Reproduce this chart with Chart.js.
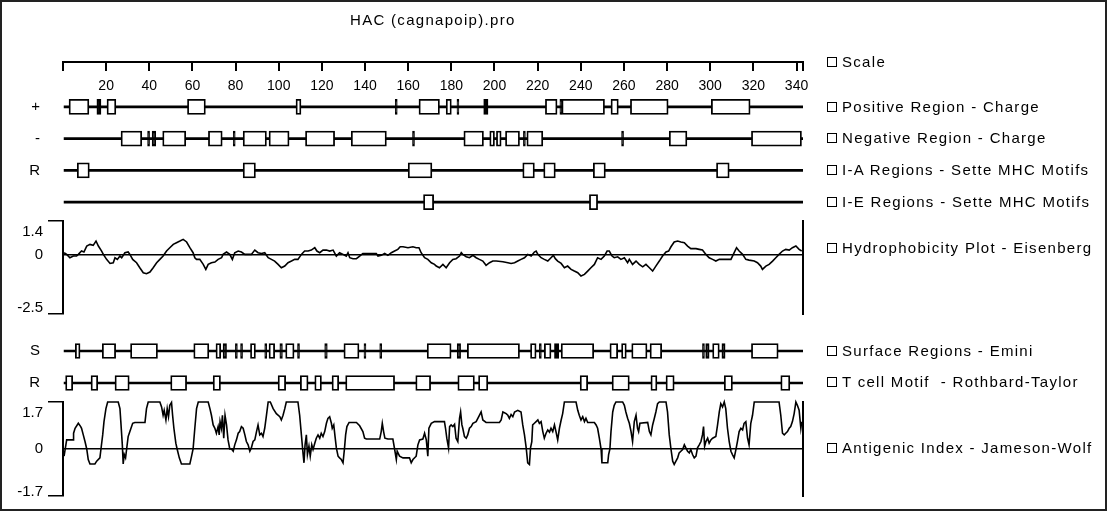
<!DOCTYPE html>
<html lang="en">
<head>
<meta charset="UTF-8">
<title>HAC (cagnapoip).pro</title>
<script src="https://cdn.jsdelivr.net/npm/chart.js"></script>
<style>
  body { margin: 0; background: #fff; }
  #wrap { position: relative; width: 1110px; height: 511px; overflow: hidden; font-family: Arial, "Liberation Sans", sans-serif; }
  #frame { position: absolute; left: 0; top: 0; width: 1103px; height: 507px; border: 2px solid #222; }
  canvas { position: absolute; left: 0; top: 0; }
  .txt { position: absolute; font-size: 15px; letter-spacing: 1.3px; color: #000; white-space: pre; line-height: 18px; }
  .key { position: absolute; width: 10px; height: 10px; border: 1.5px solid #000; box-sizing: border-box; }
</style>
</head>
<body>
<div id="wrap">
  <div id="frame"></div>
  <canvas id="cScale" width="1110" height="511"></canvas>
  <canvas id="cTop" width="1110" height="511"></canvas>
  <canvas id="cHydro" width="1110" height="511"></canvas>
  <canvas id="cBottom" width="1110" height="511"></canvas>
  <canvas id="cAnti" width="1110" height="511"></canvas>
  <div class="txt" style="left:350px;top:11px">HAC (cagnapoip).pro</div>
</div>

<script>
// sequence length and scale ticks
const seqStart = 0, seqEnd = 343;
const scaleTicks = [20, 40, 60, 80, 100, 120, 140, 160, 180, 200, 220, 240, 260, 280, 300, 320, 340];

// regions [start, end] in residues
const positiveRegions = [[2.8,12],[15.7,17.6],[20.4,24.5],[57.7,66],[108,110.3],[154,154],[165,174.5],[177.6,180],[182.6,182.6],[195,197],[223.6,229],[230.3,230.3],[231.2,251],[254,257.4],[263,280.5],[300.5,318.5]];
const negativeRegions = [[26.9,36.5],[39.2,39.2],[41.3,43],[46.2,56.9],[67.4,73.8],[78.9,78.9],[83.5,94.3],[95.5,104.8],[112.4,125.9],[133.6,149.9],[162,162],[185.8,194.9],[197.8,200],[200.9,203.1],[205.1,211.6],[213.4,213.4],[215,222.4],[258.9,258.9],[281,289.2],[319.1,342.3]];
const iaRegions = [[6.6,12.2],[83.5,89.2],[160,171],[213.1,218.5],[222.8,228.2],[245.8,251.4],[302.9,308.8]];
const ieRegions = [[167.1,171.8],[244,247.8]];
const surfaceRegions = [[5.7,7.9],[18.2,24.4],[31.3,43.8],[60.6,67.6],[70.9,73.1],[74.2,75.8],[79.9,79.9],[82.3,82.3],[86.9,89.2],[93.5,93.5],[95.5,98.1],[100.5,101.7],[103.2,107.1],[108.7,108.7],[121.3,122.5],[130.2,137.2],[139.5,139.5],[146.8,146.8],[168.8,179.9],[182.7,184.3],[187.4,211.6],[216.7,219.3],[220.8,220.8],[223.1,226.2],[227.8,229.8],[230.9,246],[253.5,257.1],[258.9,261.1],[263.6,270.7],[272.1,277.5],[296.4,296.4],[297.9,299.5],[301.1,304.2],[305.4,306.9],[319.1,331.5]];
const tcellRegions = [[1.2,4.5],[13,16.1],[24.1,30.7],[49.9,57.3],[69.6,73],[99.7,103.2],[110,113.6],[116.7,119.8],[124.7,127.8],[131,153.7],[163.5,170.4],[183,190.7],[192.6,196.9],[239.7,243.2],[254.5,262.5],[272.5,275.3],[279.5,283.3],[306.5,310.3],[332.7,336.9]];

// hydrophobicity (Eisenberg): [residue, value]
const hydroTicks = [-2.5, 0, 1.4];
const hydrophobicity = [
  [0.5,0.07],[1.7,0],[3.2,-0.14],[4.8,-0.07],[6.3,-0.07],[7.1,0],[8.6,0.14],[9.7,0.10],[11.0,0.35],[12.5,0.42],[14.0,0.38],[15.3,0.56],[16.4,0.35],[17.9,0.14],[18.7,0],[20.2,-0.21],[21.8,-0.38],[23.3,-0.35],[24.1,-0.14],[25.2,-0.21],[26.4,-0.07],[27.2,-0.14],[28.7,0.07],[30.2,0.10],[31.0,0],[32.3,-0.21],[34.1,-0.35],[35.6,-0.56],[37.2,-0.77],[38.7,-0.81],[40.3,-0.74],[41.8,-0.56],[43.4,-0.35],[44.9,-0.21],[46.4,-0.07],[48.0,0.14],[49.5,0.28],[51.1,0.42],[52.6,0.49],[54.2,0.56],[55.7,0.63],[57.3,0.52],[58.8,0.28],[60.3,0.07],[61.1,-0.14],[61.9,-0.21],[63.4,-0.21],[65.0,-0.42],[66.2,-0.63],[67.3,-0.42],[68.8,-0.35],[70.4,-0.32],[71.9,-0.21],[73.5,-0.14],[74.2,0],[75.8,0.10],[77.3,0],[78.5,-0.21],[79.6,0.07],[81.2,0.14],[82.7,0.10],[84.3,0],[87.3,0],[88.9,0.18],[90.4,0.07],[92.0,0.04],[93.5,0.07],[95.1,-0.14],[96.6,-0.21],[98.1,-0.28],[99.7,-0.42],[101.2,-0.56],[102.8,-0.49],[104.3,-0.35],[105.9,-0.28],[107.4,-0.21],[108.9,-0.21],[110.5,0],[112.0,0.14],[113.6,0.14],[115.1,0.18],[116.7,0.28],[117.7,0.14],[119.0,0.07],[120.5,0.18],[122.1,0.18],[123.6,0.14],[125.2,0.18],[126.7,-0.07],[128.2,0.07],[129.8,0],[131.3,-0.07],[132.1,0.07],[132.9,-0.14],[134.4,-0.18],[136.0,-0.18],[137.5,-0.07],[139.0,0.04],[145.2,0.04],[146.0,-0.07],[147.5,-0.04],[149.1,0.04],[150.6,-0.04],[152.2,0.07],[153.7,0.14],[155.2,0.21],[156.3,0.32],[157.6,0.32],[159.9,0.28],[162.2,0.32],[163.7,0.28],[165.0,0.28],[166.0,0.07],[167.6,-0.14],[169.1,-0.21],[170.7,-0.35],[172.2,-0.42],
  [173.0,-0.49],[174.5,-0.56],[176.1,-0.42],[177.6,-0.56],[179.2,-0.35],[180.7,-0.21],[182.2,-0.18],[183.8,-0.07],[184.6,0.07],[185.3,0],[186.9,-0.10],[188.4,-0.14],[190.0,-0.04],[191.5,-0.14],[193.0,-0.21],[194.6,-0.28],[196.1,-0.46],[197.7,-0.35],[199.2,-0.28],[200.8,-0.28],[203.9,-0.31],[206.2,-0.35],[207.7,-0.38],[209.3,-0.35],[210.8,-0.28],[212.3,-0.21],[213.9,-0.14],[215.4,0],[217.0,-0.07],[218.5,0.10],[219.3,0.14],[220.1,0],[221.6,-0.14],[223.1,-0.21],[224.7,-0.28],[226.2,-0.14],[227.3,-0.04],[228.2,-0.18],[229.3,-0.28],[230.9,-0.38],[232.4,-0.56],[233.9,-0.49],[235.5,-0.63],[237.0,-0.70],[238.6,-0.77],[240.1,-0.91],[241.7,-0.84],[243.2,-0.70],[244.7,-0.56],[246.3,-0.42],[247.8,-0.14],[249.4,-0.21],[250.9,-0.07],[252.2,0.14],[253.2,0.14],[254.5,-0.07],[255.5,-0.14],[257.1,-0.10],[258.6,-0.21],[260.2,-0.14],[261.7,-0.35],[262.5,-0.21],[264.0,-0.42],[265.6,-0.28],[267.1,-0.42],[268.7,-0.52],[270.2,-0.42],[271.8,-0.56],[273.3,-0.70],[274.8,-0.49],[276.4,-0.28],[277.9,-0.07],[279.5,0.10],[280.7,0.14],[281.8,0.32],[283.3,0.52],[284.9,0.56],[286.4,0.52],[288.0,0.49],[289.5,0.35],[291.0,0.24],[293.4,0.24],[294.9,0.21],[296.4,0.18],[298.0,0],[299.5,-0.14],[301.1,-0.21],[302.6,-0.28],[304.2,-0.21],[305.7,-0.21],[308.0,-0.21],[309.6,-0.21],[311.1,0.07],[312.2,0.28],[313.4,0.14],[315.0,0],[316.5,-0.21],[318.0,-0.24],[320.4,-0.28],[321.9,-0.35],[323.4,-0.49],[324.2,-0.63],[325.8,-0.49],[327.3,-0.42],[328.9,-0.28],[330.4,-0.14],[331.9,0],[333.5,0.14],[335.0,0.21],[336.6,0.18],[338.1,0.28],[339.7,0.35],[341.2,0.21],[342.4,0.14]
];

// antigenic index (Jameson-Wolf): [residue, value]
const antigenicTicks = [-1.7, 0, 1.7];
const antigenic = [
  [0.5,-0.26],[1.7,0.33],[4.8,0.33],[4.9,0.57],[5.6,0.75],[7.1,0.93],[8.2,0.81],[8.6,0.75],[9.4,0.51],[10.2,0.27],[11.0,0],[11.7,-0.38],[12.5,-0.54],[14.8,-0.54],[15.6,-0.44],[17.1,-0.32],[17.6,0],[18.4,0.51],[19.0,0.99],[19.9,1.46],[20.7,1.70],[25.6,1.70],[26.4,1.46],[26.8,0.99],[27.5,0.15],[27.9,-0.54],[28.4,-0.20],[29.0,-0.32],[29.5,0],[30.2,0.45],[31.0,0.63],[32.3,0.93],[33.3,0.96],[38.0,0.96],[38.7,1.46],[39.5,1.70],[44.9,1.70],[45.7,1.52],[46.4,1.22],[46.9,1.40],[47.7,1.05],[48.3,1.46],[48.9,1.17],[49.5,1.58],[50.3,1.68],[50.8,1.22],[51.4,0.75],[52.3,0.21],[52.9,0],[53.9,-0.32],[54.9,-0.54],[58.8,-0.54],[59.6,-0.26],[60.3,0],[61.1,0.75],[61.9,1.46],[62.7,1.70],[67.3,1.70],[68.1,1.46],[68.8,1.22],[69.6,0.87],[70.4,0.75],[71.1,0.57],[71.9,0.81],[72.4,0.51],[72.8,0.99],[73.4,0.75],[73.9,1.22],[74.5,0.39],[75.1,1.22],[75.8,0.87],[76.5,0.33],[77.3,0],[78.1,0],[78.9,-0.08],[79.6,0.15],[80.4,0.33],[81.2,0.57],[81.9,0.63],[82.7,0.81],[83.5,0.75],[84.3,0.51],[85.0,0.27],[85.8,0.15],[86.6,-0.08],[87.3,0.04],[88.1,0.27],[88.9,0.33],[89.7,0.63],[90.4,0.87],[91.2,0.51],[92.0,0.57],[92.7,0.45],[93.5,0.75],[94.3,1.22],[95.1,1.70],[96.1,1.70],[97.4,1.46],[98.9,1.28],[100.5,1.17],[101.2,1.05],[102.0,1.22],[102.8,1.46],[103.5,1.70],[108.9,1.70],[109.7,1.22],[110.5,0.51],[111.3,-0.20],[111.7,-0.50],[112.2,0.15],[112.8,0.51],[113.3,-0.20],[114.0,0.10],[114.6,-0.26],[115.3,0.15],[115.9,-0.02],[116.7,0.21],[117.4,0.39],[118.2,0.51],[119.0,0.39],[119.7,0.57],[120.5,0.45],[121.3,0.63],[122.1,0.93],[122.8,1.11],[123.6,1.17],[124.4,0.93],[124.8,0.75],[125.5,0.87],[126.1,0.45],[126.7,0.04],[127.5,-0.26],[128.2,-0.32],[129.0,-0.38],[129.8,-0.50],[130.5,0.04],[131.0,0.51],[131.6,0.81],[132.6,0.96],[136.0,0.96],[137.5,0.84],[139.0,0.63],[139.8,0.39],[140.6,0.36],[146.8,0.36],[147.5,0.63],[148.0,0.93],[148.6,0.63],[149.2,0.39],[150.6,0.36],[152.9,0.36],[153.7,0],[154.5,-0.38],[154.9,-0.08],[156.0,-0.26],[157.6,-0.32],[160.6,-0.32],[161.4,-0.50],[162.2,-0.38],[163.7,-0.26],[164.5,0.15],[165.3,0.33],[166.8,0.36],[167.6,0.57],[168.4,0.33],[169.1,-0.26],[169.6,0.75],[170.7,0.93],[172.2,0.99],
  [176.8,0.99],[177.3,0.75],[177.9,0.39],[178.7,0.04],[179.2,0.81],[179.9,0.87],[180.7,0.81],[181.5,0.89],[182.2,0.39],[183.0,0.27],[183.8,1.11],[184.3,1.34],[184.9,0.87],[185.3,0.75],[186.1,0.45],[186.9,0.39],[187.6,0.51],[188.4,0.75],[189.2,0.81],[190.0,0.93],[191.5,0.99],[193.0,1.22],[193.8,1.34],[194.6,1.05],[196.1,0.96],[202.3,0.96],[203.1,1.05],[203.9,1.34],[205.4,1.28],[206.2,1.22],[206.9,1.11],[207.7,1.25],[208.5,1.17],[209.3,1.34],[210.8,1.40],[212.3,1.34],[213.1,0.87],[213.9,0.51],[214.7,0.04],[215.4,-0.50],[216.2,-0.56],[216.7,0.04],[217.3,0.27],[217.7,0.87],[218.5,0.93],[219.3,0.99],[220.1,1.05],[220.8,0.93],[221.6,0.99],[222.4,0.63],[223.1,0.39],[223.9,0.57],[224.7,0.69],[225.5,0.61],[226.2,0.75],[227.0,0.63],[227.8,0.87],[228.5,0.63],[229.3,0.33],[230.1,0.75],[230.9,1.05],[231.6,1.28],[232.4,1.70],[237.8,1.70],[238.6,1.40],[239.3,1.22],[240.1,1.05],[240.9,1.17],[241.7,0.99],[242.4,1.11],[243.2,0.96],[246.3,0.96],[247.1,0.87],[247.8,0.75],[248.6,0.39],[249.4,0],[249.8,-0.50],[252.5,-0.50],[252.9,-0.20],[253.5,0],[254.0,0.63],[254.8,1.34],[255.5,1.58],[256.3,1.70],[259.4,1.70],[260.2,1.58],[260.9,1.34],[261.7,1.11],[262.5,0.93],[263.3,0.63],[264.0,0.27],[264.8,0.99],[265.6,1.22],[266.3,0.75],[266.8,0.63],[267.4,0.93],[271.0,0.96],[271.8,0.63],[272.5,0.51],[273.3,0.87],[274.1,1.11],[274.8,1.34],[275.6,1.64],[276.4,1.70],[279.5,1.70],[280.2,1.34],[281.0,0.51],[281.8,0],[282.6,-0.44],[283.3,-0.56],[284.1,-0.44],[284.9,-0.32],[285.6,-0.14],[286.4,-0.08],[287.2,-0.02],[288.0,0.15],[288.7,0.04],[289.5,-0.08],[290.3,-0.14],[291.0,-0.02],[291.8,-0.20],[292.6,-0.32],[293.4,-0.26],[294.1,0.04],[294.9,0.15],[295.7,0.27],[296.4,0.51],[296.9,0.81],[297.4,0.10],[298.0,0.27],[298.8,0.39],[299.5,0.21],[300.3,0.33],[301.1,0.39],[302.6,0.45],[303.4,0.87],[304.2,1.34],[304.9,1.64],[305.7,1.52],[306.5,1.70],[307.2,1.46],[308.0,0.75],[308.8,0.27],[309.6,-0.08],[310.3,-0.20],[311.1,-0.32],[311.9,-0.02],[312.6,0.27],[313.4,0.63],[314.2,0.75],[315.0,0.69],[315.7,0.93],[316.5,0.99],[317.3,0.39],[318.0,0.15],[318.8,0.93],[319.6,1.22],[320.4,1.70],[331.9,1.70],[332.7,1.22],[333.5,0.57],[334.3,0.51],[335.0,0.57],[335.8,0.63],[336.6,0.75],[337.3,0.81],[338.1,0.99],[338.9,1.28],[339.7,1.70],[340.4,1.58],[341.2,1.40],[342.0,0.75],[342.4,0.99]
];

const legendLabels = ['Scale', 'Positive Region - Charge', 'Negative Region - Charge', 'I-A Regions - Sette MHC Motifs',
  'I-E Regions - Sette MHC Motifs', 'Hydrophobicity Plot - Eisenberg', 'Surface Regions - Emini',
  'T cell Motif  - Rothbard-Taylor', 'Antigenic Index - Jameson-Wolf'];
const legendRows = [62, 107, 138, 170, 202, 248, 351, 382, 448];

const FONT = 'Arial, "Liberation Sans", sans-serif';
const BLACK = '#000';
const NONE = 'rgba(0,0,0,0)';
const PLOT_LEFT = 63, PLOT_RIGHT_PAD = 307;

Chart.defaults.font.family = FONT;
Chart.defaults.color = BLACK;

function common(padTop, padBottom) {
  return {
    responsive: false,
    animation: false,
    events: [],
    plugins: { legend: { display: false }, tooltip: { enabled: false } },
    layout: { padding: { left: 0, right: PLOT_RIGHT_PAD, top: padTop, bottom: padBottom } }
  };
}

// ruler
new Chart(document.getElementById('cScale'), {
  type: 'scatter',
  data: { datasets: [] },
  options: Object.assign(common(40, 419), {
    layout: { padding: { left: PLOT_LEFT, right: PLOT_RIGHT_PAD, top: 40, bottom: 419 } },
    scales: {
      x: {
        type: 'linear', min: seqStart, max: seqEnd, position: 'bottom',
        afterBuildTicks: s => { s.ticks = [seqStart].concat(scaleTicks, [seqEnd]).map(v => ({ value: v })); },
        afterFit: s => { s.height = 30; },
        ticks: { autoSkip: false, maxRotation: 0, padding: 7, color: BLACK, font: { size: 14 },
          callback: v => scaleTicks.includes(v) ? String(v) : '' },
        grid: { drawOnChartArea: false, color: BLACK, lineWidth: 2, tickLength: 9 },
        border: { color: BLACK, width: 2 }
      },
      y: { display: false }
    }
  })
});

// very short regions (one or two residues) come out as solid marks
const boxFill = c => {
  const r = c.raw && c.raw.x;
  return r && (r[1] - r[0]) < 2.1 ? BLACK : '#fff';
};

function trackChart(id, labels, tracks, padTop, padBottom) {
  const boxes = [], lines = [];
  tracks.forEach((regions, i) => {
    regions.forEach(r => boxes.push({ y: labels[i], x: r }));
    lines.push({ y: labels[i], x: [0.5, seqEnd] });
  });
  new Chart(document.getElementById(id), {
    type: 'bar',
    data: {
      labels: labels,
      datasets: [
        { data: boxes, backgroundColor: boxFill, borderColor: BLACK, borderWidth: 1.8, borderSkipped: false,
          barThickness: 15, minBarLength: 2, grouped: false, order: 0 },
        { data: lines, backgroundColor: BLACK, borderWidth: 0, barThickness: 2, grouped: false, order: 1 }
      ]
    },
    options: Object.assign(common(padTop, padBottom), {
      indexAxis: 'y',
      scales: {
        x: { type: 'linear', min: seqStart, max: seqEnd, display: false },
        y: {
          type: 'category',
          afterFit: s => { s.width = PLOT_LEFT; },
          grid: { display: false }, border: { display: false },
          ticks: { padding: 15, color: BLACK, font: { size: 15 } }
        }
      }
    })
  });
}

function plotChart(id, points, ticks, padTop, padBottom, topLH, botLH) {
  const yMin = ticks[0], yMax = ticks[ticks.length - 1];
  const val = c => (c && c.tick) ? c.tick.value : null;
  new Chart(document.getElementById(id), {
    type: 'line',
    data: {
      datasets: [{
        data: points.map(p => ({ x: p[0], y: p[1] })),
        borderColor: BLACK, borderWidth: 1.6, pointRadius: 0, fill: false, tension: 0, clip: 4
      }]
    },
    options: Object.assign(common(padTop, padBottom), {
      scales: {
        x: { type: 'linear', min: seqStart, max: seqEnd, display: false },
        y: {
          type: 'linear', min: yMin, max: yMax, position: 'left',
          afterFit: s => { s.width = PLOT_LEFT; },
          afterBuildTicks: s => { s.ticks = ticks.map(v => ({ value: v })); },
          ticks: {
            autoSkip: false, padding: 5, color: BLACK,
            font: c => ({ size: 15, lineHeight: val(c) === yMax ? topLH : val(c) === yMin ? botLH : '18px' }),
            callback: v => v === yMax ? ['', String(v)] : v === yMin ? [String(v), ''] : String(v)
          },
          grid: {
            color: c => val(c) === 0 ? BLACK : NONE,
            tickColor: c => val(c) === 0 ? NONE : BLACK,
            lineWidth: 1.5, tickLength: 15
          },
          border: { color: BLACK, width: 2 }
        },
        y2: {
          type: 'linear', position: 'right',
          afterFit: s => { s.width = 0; },
          ticks: { display: false }, grid: { display: false },
          border: { color: BLACK, width: 2 }
        }
      }
    })
  });
}

trackChart('cTop', ['+', '-', 'R', ' '], [positiveRegions, negativeRegions, iaRegions, ieRegions], 91, 293);
plotChart('cHydro', hydrophobicity, hydroTicks, 221, 197, '21px', '12px');
trackChart('cBottom', ['S', 'R'], [surfaceRegions, tcellRegions], 335, 112);
plotChart('cAnti', antigenic, antigenicTicks, 402, 15, '22px', '9px');

// legend keys
const wrap = document.getElementById('wrap');
legendLabels.forEach((t, i) => {
  const k = document.createElement('div');
  k.className = 'key';
  k.style.left = '827px';
  k.style.top = (legendRows[i] - 5) + 'px';
  wrap.appendChild(k);
  const d = document.createElement('div');
  d.className = 'txt';
  d.style.left = '842px';
  d.style.top = (legendRows[i] - 9) + 'px';
  d.textContent = t;
  wrap.appendChild(d);
});
</script>
</body>
</html>
